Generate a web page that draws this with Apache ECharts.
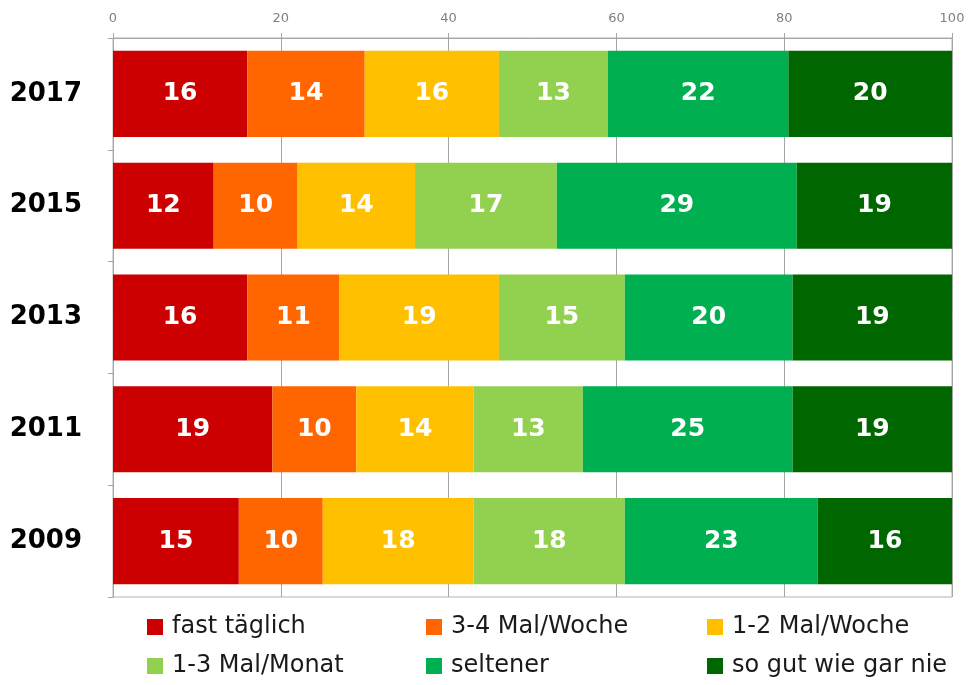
<!DOCTYPE html>
<html>
<head>
<meta charset="utf-8">
<script src="https://cdn.jsdelivr.net/npm/echarts@6/dist/echarts.min.js"></script>
<style>
  html, body { margin: 0; padding: 0; background: #fff; }
  #main { width: 969px; height: 685px; }
</style>
</head>
<body>
<div id="main"></div>
<script>
// years, top to bottom
const years = ["2017", "2015", "2013", "2011", "2009"]
const seriesNames = ["fast täglich", "3-4 Mal/Woche", "1-2 Mal/Woche", "1-3 Mal/Monat", "seltener", "so gut wie gar nie"]
// shares in % (labels show rounded values)
const fastTaeglich = [16, 12, 16, 19, 15]
const dreiVierWoche = [14, 10, 11, 10, 10]
const einsZweiWoche = [16, 14, 19, 14, 18]
const einsDreiMonat = [13, 16.9, 15, 13, 18]
const seltener = [21.5, 28.6, 20, 25, 23]
const garNie = [19.5, 18.5, 19, 19, 16]
const xTicks = [0, 20, 40, 60, 80, 100]

const colors = ["#CC0000", "#FF6600", "#FFC000", "#92D050", "#00B050", "#006600"]
const allData = [fastTaeglich, dreiVierWoche, einsZweiWoche, einsDreiMonat, seltener, garNie]
const font = "DejaVu Sans"

var chartDom = document.getElementById("main")
var myChart = echarts.init(chartDom)

// legend laid out as 3 columns x 2 rows
const legendPos = [
  { left: 147, top: 615 },
  { left: 426, top: 615 },
  { left: 707, top: 615 },
  { left: 147, top: 654 },
  { left: 426, top: 654 },
  { left: 707, top: 654 }
]

var option = {
  animation: false,
  color: colors,
  grid: {
    left: 113,
    right: 17,
    top: 38,
    bottom: 88,
    show: true,
    borderColor: "#b3b3b3",
    borderWidth: 1
  },
  legend: seriesNames.map((n, i) => ({
    data: [n],
    left: legendPos[i].left,
    top: legendPos[i].top,
    padding: 0,
    icon: "rect",
    itemWidth: 16,
    itemHeight: 16,
    selectedMode: false,
    textStyle: {
      fontFamily: font,
      fontSize: 24,
      color: "#1a1a1a",
      padding: [0, 0, 0, 4]
    }
  })),
  xAxis: {
    type: "value",
    position: "top",
    min: xTicks[0],
    max: xTicks[xTicks.length - 1],
    interval: 20,
    axisLine: { show: true, lineStyle: { color: "#a6a6a6" } },
    axisTick: { show: true, length: 5, lineStyle: { color: "#a6a6a6" } },
    splitLine: { show: true, lineStyle: { color: "#a6a6a6" } },
    axisLabel: {
      color: "#808080",
      fontFamily: font,
      fontSize: 13,
      margin: 13
    }
  },
  yAxis: {
    type: "category",
    inverse: true,
    data: years,
    axisLine: { show: true, lineStyle: { color: "#a6a6a6" } },
    axisTick: { show: true, length: 5, lineStyle: { color: "#a6a6a6" } },
    axisLabel: {
      color: "#000",
      fontFamily: font,
      fontWeight: "bold",
      fontSize: 26,
      margin: 31
    }
  },
  series: seriesNames.map((n, i) => ({
    name: n,
    type: "bar",
    stack: "total",
    barCategoryGap: "23%",
    data: allData[i],
    label: {
      show: true,
      position: "inside",
      color: "#fff",
      fontFamily: font,
      fontWeight: "bold",
      fontSize: 25,
      formatter: (p) => Math.round(p.value)
    }
  }))
}

option && myChart.setOption(option)
</script>
</body>
</html>
